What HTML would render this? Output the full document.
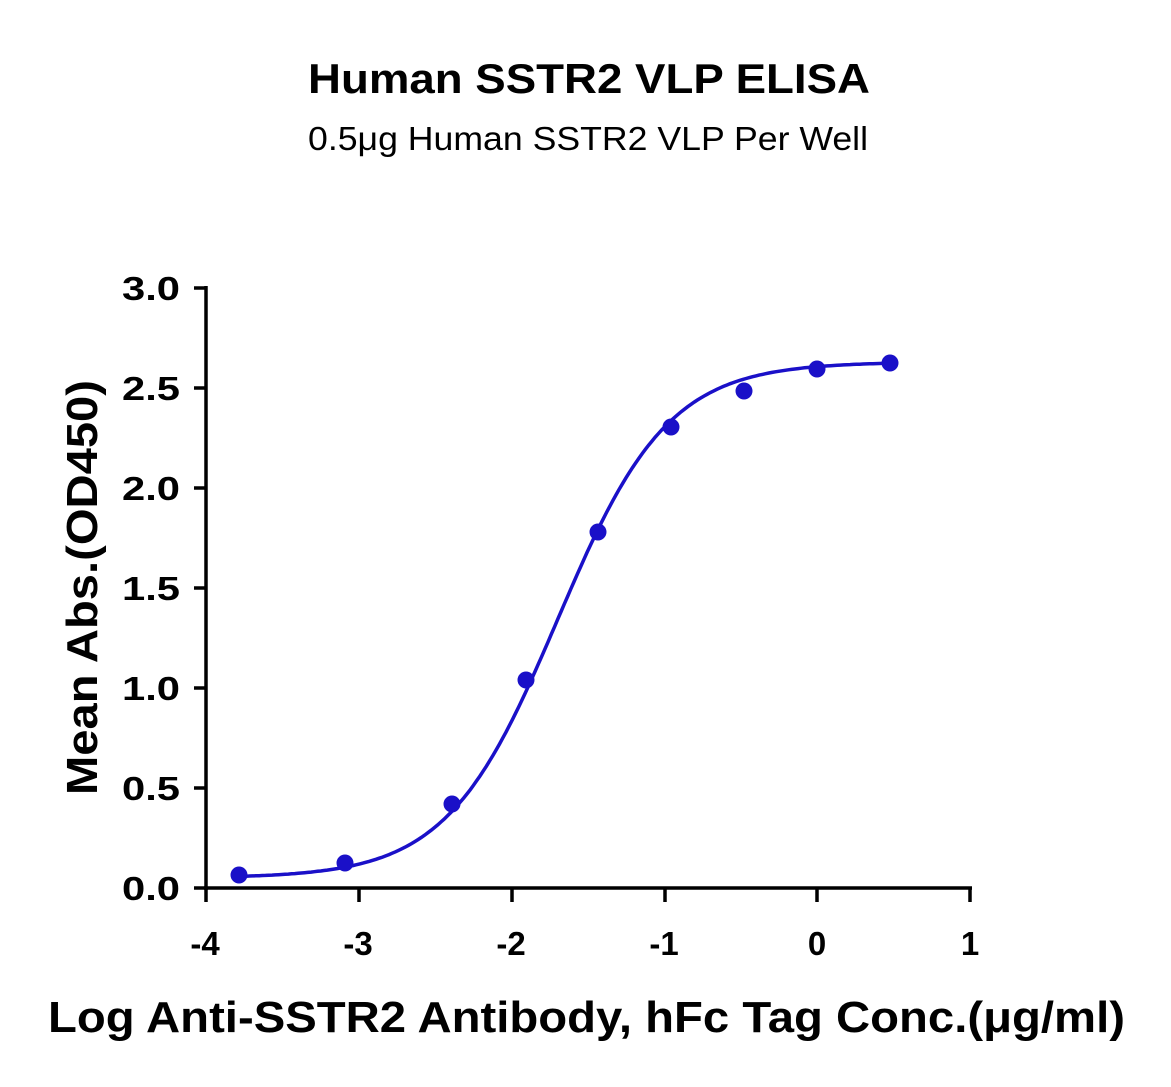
<!DOCTYPE html>
<html><head><meta charset="utf-8"><style>
body{margin:0;background:#fff;}
svg{display:block;font-family:"Liberation Sans",sans-serif;}
</style></head><body>
<svg id="s" width="1171" height="1087" xmlns="http://www.w3.org/2000/svg">
<text x="308" y="93" font-size="42" font-weight="bold" textLength="562" lengthAdjust="spacingAndGlyphs">Human SSTR2 VLP ELISA</text>
<text x="308" y="150" font-size="33" textLength="560" lengthAdjust="spacingAndGlyphs">0.5μg Human SSTR2 VLP Per Well</text>
<g stroke="#000" stroke-width="3.5" fill="none">
<line x1="206" y1="286" x2="206" y2="890"/>
<line x1="204" y1="888" x2="972" y2="888"/>
<line x1="194" y1="288" x2="206" y2="288"/>
<line x1="194" y1="388" x2="206" y2="388"/>
<line x1="194" y1="488" x2="206" y2="488"/>
<line x1="194" y1="588" x2="206" y2="588"/>
<line x1="194" y1="688" x2="206" y2="688"/>
<line x1="194" y1="788" x2="206" y2="788"/>
<line x1="194" y1="888" x2="206" y2="888"/>
<line x1="206" y1="888" x2="206" y2="902"/>
<line x1="359" y1="888" x2="359" y2="902"/>
<line x1="512" y1="888" x2="512" y2="902"/>
<line x1="665" y1="888" x2="665" y2="902"/>
<line x1="817" y1="888" x2="817" y2="902"/>
<line x1="970" y1="888" x2="970" y2="902"/>
</g>
<g font-size="33" font-weight="bold">
<text x="122" y="300" textLength="58" lengthAdjust="spacingAndGlyphs">3.0</text>
<text x="122" y="400" textLength="58" lengthAdjust="spacingAndGlyphs">2.5</text>
<text x="122" y="500" textLength="58" lengthAdjust="spacingAndGlyphs">2.0</text>
<text x="122" y="600" textLength="58" lengthAdjust="spacingAndGlyphs">1.5</text>
<text x="122" y="700" textLength="58" lengthAdjust="spacingAndGlyphs">1.0</text>
<text x="122" y="800" textLength="58" lengthAdjust="spacingAndGlyphs">0.5</text>
<text x="122" y="900" textLength="58" lengthAdjust="spacingAndGlyphs">0.0</text>
</g>
<g font-size="33" font-weight="bold" text-anchor="middle">
<text x="205" y="955">-4</text><text x="358" y="955">-3</text><text x="511" y="955">-2</text>
<text x="664" y="955">-1</text><text x="817" y="955">0</text><text x="970" y="955">1</text>
</g>
<text x="48" y="1032" font-size="44" font-weight="bold" textLength="1077" lengthAdjust="spacingAndGlyphs">Log Anti-SSTR2 Antibody, hFc Tag Conc.(μg/ml)</text>
<text transform="translate(97,795) rotate(-90)" font-size="44" font-weight="bold" textLength="415" lengthAdjust="spacingAndGlyphs">Mean Abs.(OD450)</text>
<path id="c" fill="none" stroke="#1a10c8" stroke-width="3.5"/>
<g fill="#1a10c8">
<circle cx="239" cy="875" r="8.5"/><circle cx="345" cy="863" r="8.5"/><circle cx="452" cy="804" r="8.5"/>
<circle cx="526" cy="680" r="8.5"/><circle cx="598" cy="532" r="8.5"/><circle cx="671" cy="427" r="8.5"/>
<circle cx="744" cy="391" r="8.5"/><circle cx="817" cy="369" r="8.5"/><circle cx="890" cy="363" r="8.5"/>
</g>
</svg>
<script>
var d="";for(var i=0;i<=200;i++){var x=-3.78+i*(4.25/200);var y=0.05+2.58/(1+Math.pow(10,(-1.7-x)*1.2));
d+=(i?"L":"M")+(206+(x+4)*152.8).toFixed(1)+","+(888-y*200).toFixed(1);}
document.getElementById("c").setAttribute("d",d);
</script>
</body></html>
